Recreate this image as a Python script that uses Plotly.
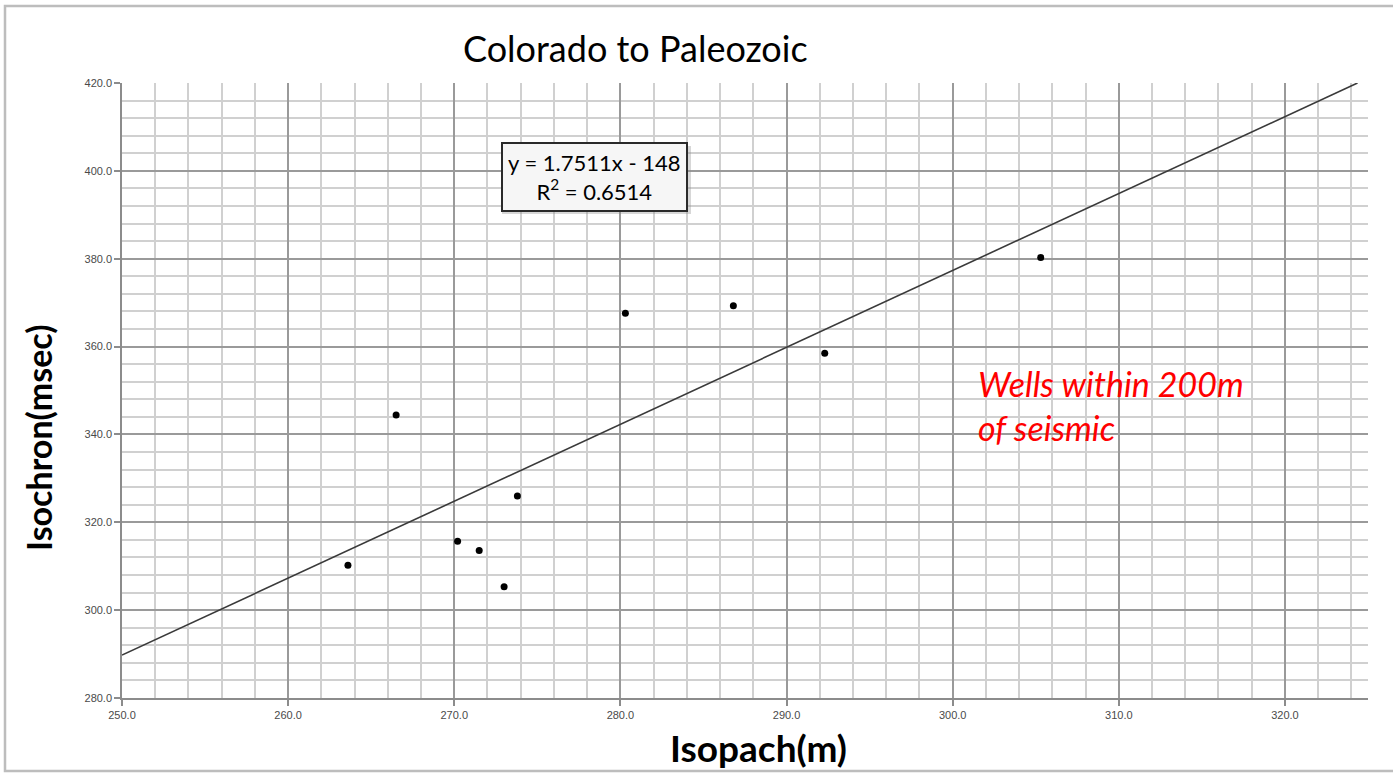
import plotly.graph_objects as go

# Well data: isopach thickness (m) vs seismic isochron (msec)
isopach_m = [263.6, 266.5, 270.2, 271.5, 273.0, 273.8, 280.3, 286.8, 292.3, 305.3]
isochron_ms = [310.2, 344.4, 315.7, 313.6, 305.3, 326.0, 367.6, 369.3, 358.5, 380.3]

# Linear trend as reported in the equation label
slope = 1.7511
intercept = -148.0
r_squared = 0.6514

x_range = [250, 325]
y_range = [280, 420]

# Trend line clipped to the plotted window
x_end = min(x_range[1], (y_range[1] - intercept) / slope)
trend_x = [x_range[0], x_end]
trend_y = [slope * v + intercept for v in trend_x]

fig = go.Figure()
fig.add_trace(go.Scatter(
    x=trend_x, y=trend_y, mode="lines",
    line=dict(color="#3a3a3a", width=1.6),
    hoverinfo="skip", showlegend=False,
))
fig.add_trace(go.Scatter(
    x=isopach_m, y=isochron_ms, mode="markers",
    marker=dict(color="black", size=7),
    showlegend=False,
))

tick_font = dict(family="Liberation Sans, Arial", size=11, color="#4a4a4a")

fig.update_xaxes(
    range=x_range, dtick=10, tick0=250, tickformat=".1f",
    showgrid=True, gridcolor="#9a9a9a", gridwidth=1.5,
    minor=dict(dtick=2, tick0=250, showgrid=True, gridcolor="#d0d0d0", gridwidth=1.5),
    showline=True, linecolor="#8c8c8c", linewidth=1.5,
    ticks="outside", ticklen=6, tickcolor="#8c8c8c", tickwidth=1.5,
    tickfont=tick_font, zeroline=False,
)
fig.update_yaxes(
    range=y_range, dtick=20, tick0=280, tickformat=".1f",
    showgrid=True, gridcolor="#9a9a9a", gridwidth=1.5,
    minor=dict(dtick=4, tick0=280, showgrid=True, gridcolor="#d0d0d0", gridwidth=1.5),
    showline=True, linecolor="#8c8c8c", linewidth=1.5,
    ticks="outside", ticklen=6, tickcolor="#8c8c8c", tickwidth=1.5,
    tickfont=tick_font, zeroline=False,
)

# Pixel helpers for paper placement
L, R, T, B = 122, 25, 83, 75
W, H = 1393, 773
pw, ph = W - L - R, H - T - B


def px(x):
    return (x - L) / pw


def py(y):
    return (H - B - y) / ph


annotations = [
    dict(text="Colorado to Paleozoic", x=px(635), y=py(48), xref="paper", yref="paper",
         showarrow=False, xanchor="center", yanchor="middle",
         font=dict(family="Lato", size=36, color="black")),
    dict(text="<b>Isopach(m)</b>", x=px(758), y=py(747), xref="paper", yref="paper",
         showarrow=False, xanchor="center", yanchor="middle",
         font=dict(family="Lato", size=37, color="black")),
    dict(text="<b>Isochron(msec)</b>", x=px(39), y=py(438), xref="paper", yref="paper",
         showarrow=False, xanchor="center", yanchor="middle", textangle=-90,
         font=dict(family="Lato", size=34, color="black")),
    dict(text="<i>Wells within 200m<br>of seismic</i>", x=px(976), y=py(405),
         xref="paper", yref="paper", showarrow=False, xanchor="left", yanchor="middle",
         align="left", font=dict(family="Lato", size=34, color="#ff0000")),
    dict(text=f"y = {slope}x - {abs(intercept):.0f}<br>R<sup>2</sup> = {r_squared}",
         x=px(594), y=py(177), xref="paper", yref="paper", showarrow=False,
         xanchor="center", yanchor="middle", align="center",
         font=dict(family="Lato", size=22, color="black"),
         bgcolor="#f6f6f6", bordercolor="#2a2a2a", borderwidth=2, borderpad=5),
]

shapes = [
    # outer chart frame
    dict(type="rect", xref="paper", yref="paper",
         x0=px(5), x1=px(1400), y0=py(771), y1=py(6),
         line=dict(color="#bdbdbd", width=2.5), fillcolor="rgba(0,0,0,0)", layer="below"),
    # drop shadow for equation box
    dict(type="rect", xref="paper", yref="paper",
         x0=px(502), x1=px(691), y0=py(214), y1=py(146),
         line=dict(width=0), fillcolor="rgba(140,140,140,0.35)", layer="above"),
]

fig.update_layout(
    width=W, height=H,
    margin=dict(l=L, r=R, t=T, b=B),
    paper_bgcolor="white", plot_bgcolor="white",
    annotations=annotations, shapes=shapes,
    showlegend=False,
)

fig.write_html("out.html")
